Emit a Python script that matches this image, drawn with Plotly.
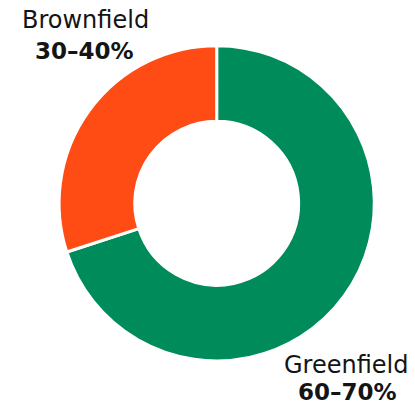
import plotly.graph_objects as go

categories = ["Greenfield", "Brownfield"]
values = [70, 30]
range_labels = ["60–70%", "30–40%"]
colors = ["#008C5A", "#FF4B14"]

W, H = 415, 408
cx, cy, r = 216.7, 203.3, 157.6

fig = go.Figure(go.Pie(
    labels=categories,
    values=values,
    sort=False,
    direction="clockwise",
    rotation=0,
    hole=0.52,
    textinfo="none",
    hoverinfo="label+percent",
    marker=dict(colors=colors, line=dict(color="white", width=3)),
    domain=dict(x=[(cx - r) / W, (cx + r) / W], y=[(H - cy - r) / H, (H - cy + r) / H]),
    showlegend=False,
))

FONT = "DejaVu Sans"
ann = [
    (categories[1], 85, 19.5, False, 24),
    (range_labels[1], 84.5, 51, True, 23),
    (categories[0], 346, 365, False, 24),
    (range_labels[0], 347.5, 392, True, 23),
]
for text, x, y, bold, size in ann:
    fig.add_annotation(
        text=f"<b>{text}</b>" if bold else text,
        x=x / W, y=1 - y / H, xref="paper", yref="paper",
        xanchor="center", yanchor="middle", showarrow=False,
        font=dict(family=FONT, size=size, color="#141414"),
    )

fig.update_layout(
    width=W, height=H,
    margin=dict(l=0, r=0, t=0, b=0),
    paper_bgcolor="white", plot_bgcolor="white",
)
fig.write_html(
    "out.html",
    config={"displayModeBar": False},
    post_script="document.body.style.margin='0';document.body.style.padding='0';",
)
